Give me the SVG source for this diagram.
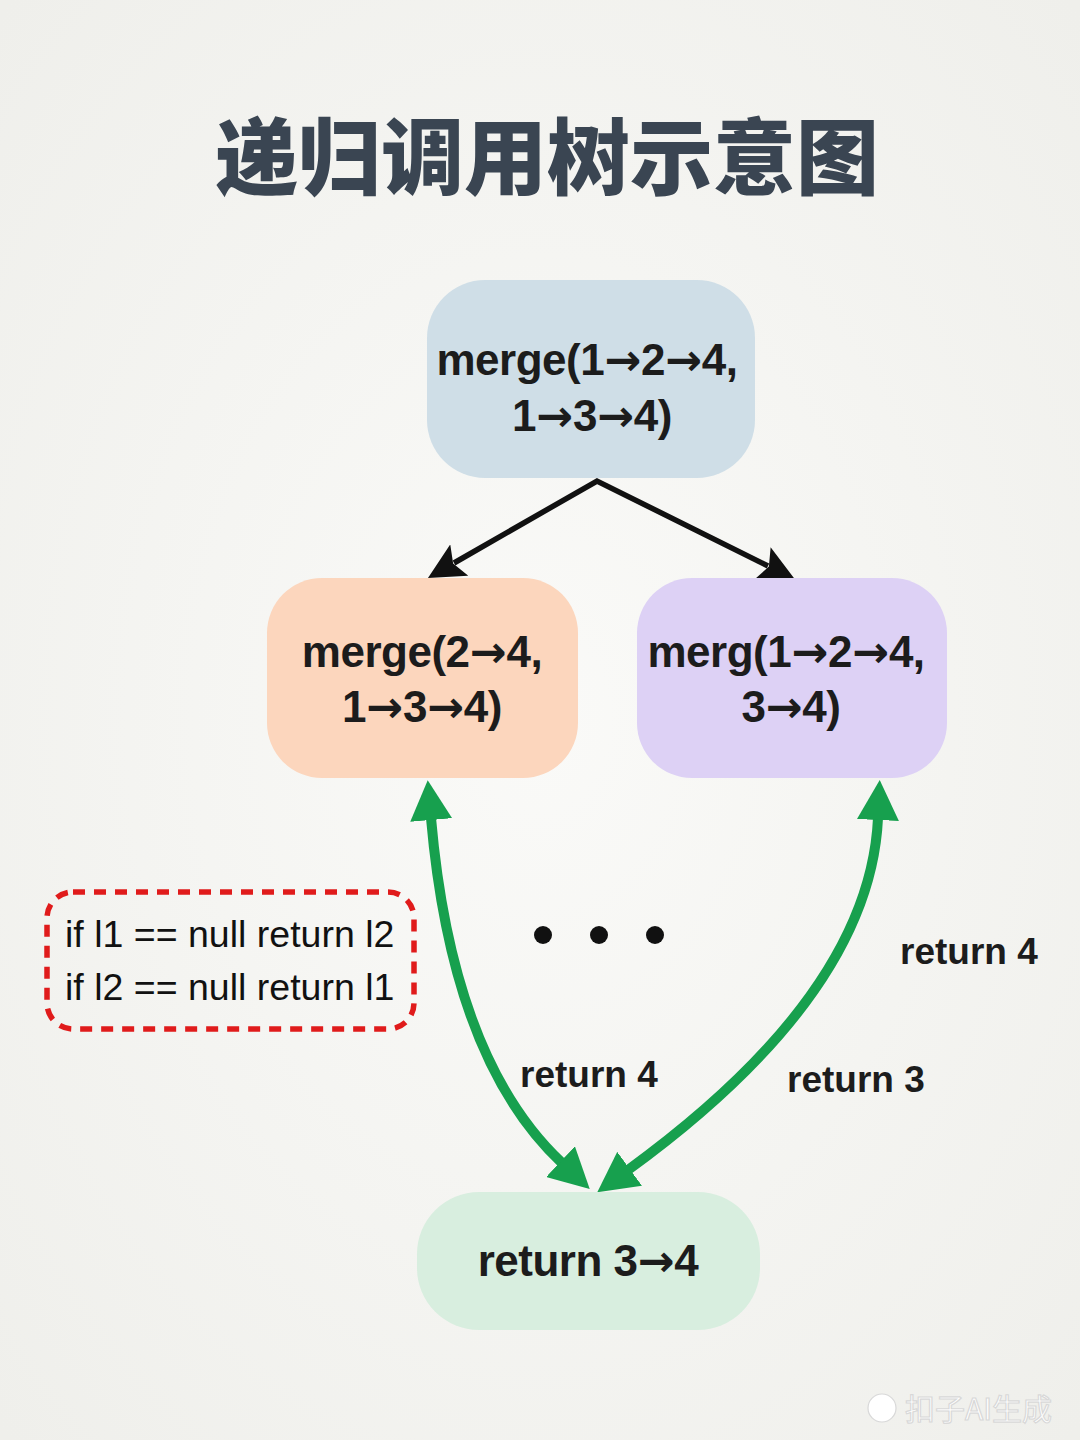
<svg xmlns="http://www.w3.org/2000/svg" width="1080" height="1440" viewBox="0 0 1080 1440">
<defs>
<style>
.title{font-family:"Noto Sans CJK SC","Noto Sans",sans-serif;font-weight:900;font-size:83px;fill:#3a4552;text-anchor:middle}
.nt{font-family:"Liberation Sans",Arial,sans-serif;font-weight:bold;font-size:44px;letter-spacing:-0.5px;fill:#1c1c1c;text-anchor:middle}
.ar{font-family:"DejaVu Sans",sans-serif;font-weight:bold;font-size:44px;letter-spacing:0px}
.lbl{font-family:"Liberation Sans",Arial,sans-serif;font-weight:bold;font-size:37px;fill:#1c1c1c}
.code{font-family:"Liberation Sans",Arial,sans-serif;font-size:37.5px;fill:#111}
.wm{font-family:"Noto Sans CJK SC",sans-serif;font-size:30px;fill:#ffffff;stroke:#d8d8d8;stroke-width:1.2}
.blk{fill:none;stroke:#111;stroke-width:5.5;stroke-linejoin:miter;marker-start:url(#ab);marker-end:url(#ab)}
.grn{fill:none;stroke:#17a04e;stroke-width:10;marker-start:url(#ag);marker-end:url(#ag)}
</style>
<radialGradient id="bg" cx="50%" cy="50%" r="70%">
<stop offset="0" stop-color="#fafaf8"/>
<stop offset="1" stop-color="#efefeb"/>
</radialGradient>
<marker id="ab" markerUnits="userSpaceOnUse" viewBox="0 0 36 36" refX="6" refY="18" markerWidth="36" markerHeight="36" orient="auto-start-reverse">
<path d="M0,0 L36,18 L0,36 L7,18 Z" fill="#111"/>
</marker>
<marker id="ag" markerUnits="userSpaceOnUse" viewBox="0 0 40 42" refX="2" refY="21" markerWidth="40" markerHeight="42" orient="auto-start-reverse">
<path d="M0,0 L40,21 L0,42 Z" fill="#17a04e"/>
</marker>
</defs>
<rect width="1080" height="1440" fill="url(#bg)"/>
<text class="title" x="547" y="188">递归调用树示意图</text>

<g id="connectors">
<path class="blk" d="M454,563 L597,481 L768,566"/>
<path class="grn" d="M431,818 Q452,1060 562,1163"/>
<path class="grn" d="M878,818 Q870,994 628,1170"/>
</g>

<g id="node-root">
<rect x="427" y="280" width="328" height="198" rx="58" fill="#cfdee7"/>
<text class="nt" x="587" y="375">merge(1<tspan class="ar">→</tspan>2<tspan class="ar">→</tspan>4,</text>
<text class="nt" x="592" y="431">1<tspan class="ar">→</tspan>3<tspan class="ar">→</tspan>4)</text>
</g>
<g id="node-left">
<rect x="267" y="578" width="311" height="200" rx="55" fill="#fcd6bd"/>
<text class="nt" x="422" y="667">merge(2<tspan class="ar">→</tspan>4,</text>
<text class="nt" x="422" y="722">1<tspan class="ar">→</tspan>3<tspan class="ar">→</tspan>4)</text>
</g>
<g id="node-right">
<rect x="637" y="578" width="310" height="200" rx="55" fill="#ddd1f5"/>
<text class="nt" x="786" y="667">merg(1<tspan class="ar">→</tspan>2<tspan class="ar">→</tspan>4,</text>
<text class="nt" x="791" y="722">3<tspan class="ar">→</tspan>4)</text>
</g>
<g id="node-bottom">
<rect x="417" y="1192" width="343" height="138" rx="62" fill="#d8eedf"/>
<text class="nt" x="588" y="1276">return 3<tspan class="ar">→</tspan>4</text>
</g>

<g id="label-return4-left"><text class="lbl" x="520" y="1087">return 4</text></g>
<g id="label-return3"><text class="lbl" x="787" y="1092">return 3</text></g>
<g id="label-return4-right"><text class="lbl" x="900" y="964">return 4</text></g>

<g id="dots" fill="#111">
<circle cx="543" cy="935" r="9"/>
<circle cx="599" cy="935" r="9"/>
<circle cx="655" cy="935" r="9"/>
</g>

<g id="base-case">
<rect x="47" y="892" width="367" height="137" rx="26" fill="none" stroke="#e01b1b" stroke-width="5.5" stroke-dasharray="12 9"/>
<text class="code" x="65" y="947">if l1 == null return l2</text>
<text class="code" x="65" y="1000">if l2 == null return l1</text>
</g>

<g id="watermark">
<circle cx="882" cy="1408" r="14" fill="#ffffff" stroke="#d8d8d8" stroke-width="1.2"/>
<text class="wm" x="905" y="1420">扣子AI生成</text>
</g>
</svg>
